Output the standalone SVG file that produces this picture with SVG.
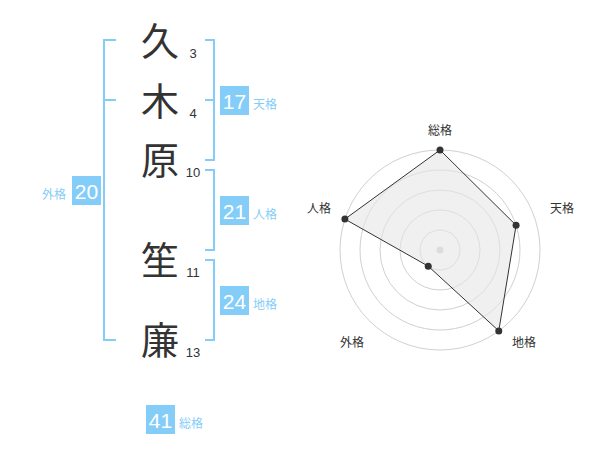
<svg xmlns="http://www.w3.org/2000/svg" width="600" height="470" viewBox="0 0 600 470">
<style>
.kanji{font-family:"Noto Sans CJK JP","Noto Sans CJK SC",sans-serif;font-size:38px;fill:#333;text-anchor:middle}
.stroke{font-family:"Liberation Sans",Arial,sans-serif;font-size:13px;fill:#333;text-anchor:middle}
.br{fill:none;stroke:#85cdf9;stroke-width:2}
.box{fill:#85cdf9}
.num{font-family:"Liberation Sans",Arial,sans-serif;font-size:21px;fill:#fff;text-anchor:middle}
.lab{font-family:"Noto Sans CJK JP","Noto Sans CJK SC",sans-serif;font-size:12px;fill:#85cdf9}
.rlab{font-family:"Noto Sans CJK JP","Noto Sans CJK SC",sans-serif;font-size:12px;fill:#333;text-anchor:middle}
.ring{fill:none;stroke:#d0d0d0;stroke-width:1}
.pt{fill:#333}
</style>
<rect width="600" height="470" fill="#fff"/>
<g id="chars">
<g id="c1"><text class="kanji" x="160" y="55">久</text><text class="stroke" x="193" y="58">3</text></g>
<g id="c2"><text class="kanji" x="160" y="115">木</text><text class="stroke" x="193" y="118">4</text></g>
<g id="c3"><text class="kanji" x="160" y="174">原</text><text class="stroke" x="193" y="177">10</text></g>
<g id="c4"><text class="kanji" x="160" y="274">笙</text><text class="stroke" x="193" y="277">11</text></g>
<g id="c5"><text class="kanji" x="160" y="354">廉</text><text class="stroke" x="193" y="357">13</text></g>
</g>
<g id="brackets">
<path class="br" d="M116,40 H104 V340 H116 M104,100 H116"/>
<path class="br" d="M205,40 H214 V160 H205 M205,100 H214"/>
<path class="br" d="M205,170 H214 V250 H205"/>
<path class="br" d="M205,260 H214 V340 H205"/>
</g>
<g id="tenkaku"><rect class="box" x="220" y="86" width="29" height="29"/><text class="num" x="234.5" y="109">17</text><text class="lab" x="253" y="109">天格</text></g>
<g id="jinkaku"><rect class="box" x="220" y="196" width="29" height="29"/><text class="num" x="234.5" y="219">21</text><text class="lab" x="253" y="219">人格</text></g>
<g id="chikaku"><rect class="box" x="220" y="286" width="29" height="29"/><text class="num" x="234.5" y="309">24</text><text class="lab" x="253" y="309">地格</text></g>
<g id="gaikaku"><rect class="box" x="72" y="176" width="29" height="29"/><text class="num" x="86.5" y="199">20</text><text class="lab" x="66" y="199" text-anchor="end">外格</text></g>
<g id="soukaku"><rect class="box" x="146" y="405" width="29" height="29"/><text class="num" x="160.5" y="428">41</text><text class="lab" x="179" y="428">総格</text></g>
<g id="radar">
<circle class="ring" cx="440" cy="250" r="20"/>
<circle class="ring" cx="440" cy="250" r="40"/>
<circle class="ring" cx="440" cy="250" r="60"/>
<circle class="ring" cx="440" cy="250" r="80"/>
<circle class="ring" cx="440" cy="250" r="100"/>
<circle cx="440" cy="250" r="3.5" fill="#ccc"/>
<polygon points="440,150 516.08,225.28 498.78,330.9 428.24,266.18 344.89,219.1" fill="#e6e6e6" fill-opacity="0.6" stroke="#333" stroke-width="1"/>
<circle class="pt" cx="440" cy="150" r="3.5"/>
<circle class="pt" cx="516.08" cy="225.28" r="3.5"/>
<circle class="pt" cx="498.78" cy="330.9" r="3.5"/>
<circle class="pt" cx="428.24" cy="266.18" r="3.5"/>
<circle class="pt" cx="344.89" cy="219.1" r="3.5"/>
<text class="rlab" x="440" y="135">総格</text>
<text class="rlab" x="562" y="213">天格</text>
<text class="rlab" x="524" y="347">地格</text>
<text class="rlab" x="352" y="347">外格</text>
<text class="rlab" x="319" y="213">人格</text>
</g>
</svg>
